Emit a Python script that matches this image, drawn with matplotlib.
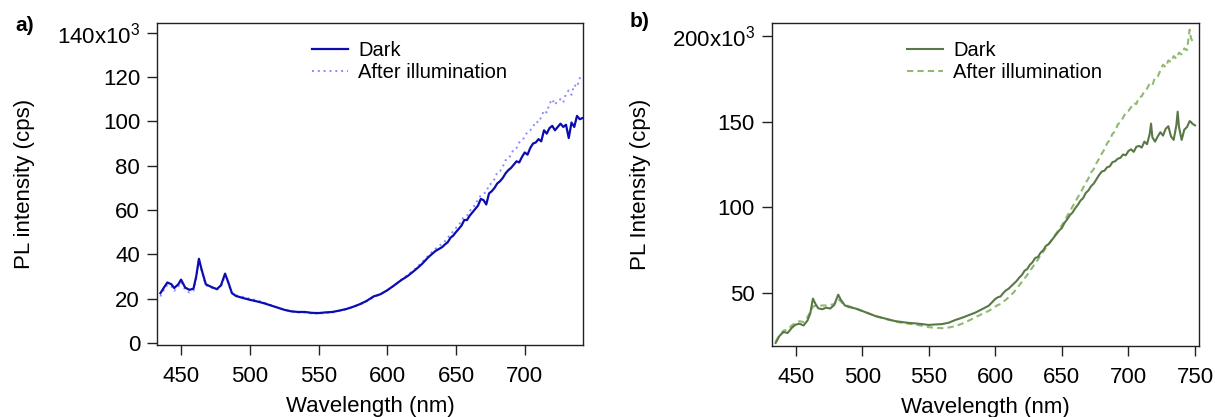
import matplotlib
matplotlib.use("Agg")
import matplotlib.pyplot as plt

plt.rcParams['font.family'] = ['Liberation Sans', 'DejaVu Sans']
plt.rcParams['mathtext.fontset'] = 'custom'
plt.rcParams['mathtext.rm'] = 'Liberation Sans'

# ---- panel a: PL spectra, wavelength in nm, intensity in 10^3 cps ----
wl_a = [435, 437, 440, 443, 445, 448, 450, 453, 456, 459,
        461, 463, 465, 468, 472, 476, 479, 482, 484, 487,
        490, 495, 500, 505, 510, 515, 520, 525, 530, 535,
        540, 545, 550, 555, 560, 565, 570, 575, 580, 585,
        590, 595, 600, 605, 610, 615, 620, 625, 630, 635,
        640, 642, 644, 646, 648, 650, 652, 654, 656, 658,
        660, 662, 664, 666, 668, 670, 672, 674, 676, 678,
        680, 682, 684, 686, 688, 690, 692, 694, 696, 698,
        700, 702, 704, 706, 708, 710, 712, 714, 716, 718,
        720, 722, 724, 726, 728, 730, 732, 734, 736, 738,
        740, 742]
dark_a = [22.5, 24.5, 27.3, 26.5, 24.8, 26.5, 28.6, 25.0, 24.0, 24.5,
          30.0, 38.0, 33.0, 26.5, 25.3, 24.3, 26.0, 31.3, 28.0, 22.5,
          21.2, 20.3, 19.5, 18.8, 18.0, 17.0, 16.0, 15.0, 14.3, 14.0,
          14.0, 13.6, 13.5, 13.8, 14.0, 14.6, 15.3, 16.3, 17.5, 19.0,
          21.0, 22.0, 23.8, 26.0, 28.3, 30.3, 32.8, 35.5, 38.8, 41.5,
          43.3, 44.5, 45.5, 47.5, 48.5, 50.1, 51.5, 53.0, 55.5, 55.5,
          57.5, 59.0, 60.5, 62.0, 65.0, 64.5, 62.5, 67.5, 68.5, 70.0,
          72.0, 73.0, 74.5, 76.5, 78.0, 79.0, 80.5, 82.0, 81.5, 84.0,
          86.0, 85.0, 88.0, 90.0, 90.5, 92.0, 91.0, 96.0, 94.5, 97.0,
          98.0, 96.0, 97.5, 99.0, 97.5, 98.5, 92.5, 99.5, 97.5, 102.5,
          101.0, 101.5]
illum_a = [21.0, 23.5, 26.3, 25.5, 23.5, 25.5, 27.5, 24.0, 22.8, 23.5,
           29.0, 37.5, 32.5, 26.0, 25.0, 24.0, 25.5, 30.5, 27.5, 22.5,
           21.5, 20.8, 20.0, 19.3, 18.3, 17.2, 16.0, 15.0, 14.3, 13.8,
           13.8, 13.3, 13.3, 13.5, 13.8, 14.5, 15.2, 16.2, 17.3, 18.8,
           20.6, 22.0, 23.8, 26.0, 28.5, 30.8, 33.3, 36.3, 39.5, 42.5,
           44.8, 46.0, 47.5, 49.0, 50.5, 52.0, 53.0, 55.5, 57.0, 57.5,
           59.5, 61.5, 62.0, 65.0, 66.5, 67.5, 68.0, 71.5, 72.0, 74.0,
           77.0, 77.5, 79.5, 82.5, 83.0, 85.0, 87.5, 88.0, 90.5, 91.5,
           93.0, 95.5, 96.0, 97.5, 100.0, 99.5, 102.0, 105.0, 104.0, 108.0,
           110.0, 107.5, 109.5, 110.0, 108.5, 112.5, 114.0, 112.0, 116.5, 115.5,
           119.5, 121.0]

# ---- panel b ----
wl_b = [435, 438, 441, 444, 447, 450, 453, 456, 459, 461,
        463, 465, 467, 470, 473, 476, 479, 482, 484, 487,
        490, 495, 500, 505, 510, 515, 520, 525, 530, 535,
        540, 545, 550, 555, 560, 565, 570, 575, 580, 585,
        590, 595,
        600, 602, 604, 606, 608, 610, 612, 614, 616, 618,
        620, 622, 624, 626, 628, 630, 632, 634, 636, 638,
        640, 642, 644, 646, 648, 650, 652, 654, 656, 658,
        660, 662, 664, 666, 668, 670, 672, 674, 676, 678,
        680, 682, 684, 686, 688, 690, 692, 694, 696, 698,
        700, 702, 704, 706, 708, 710, 712, 714, 716, 717,
        718, 720, 722, 724, 726, 728, 730, 732, 734, 736,
        737, 738, 740, 742, 744, 746, 747, 748, 750]
dark_b = [20.8, 25.0, 27.2, 26.6, 29.5, 31.5, 32.0, 31.0, 34.0, 38.0,
          46.7, 43.5, 41.0, 40.5, 41.4, 40.9, 43.0, 49.0, 46.0, 42.7,
          41.8, 40.9, 39.5, 38.0, 36.5, 35.5, 34.5, 33.5, 33.0, 32.5,
          32.2, 31.8, 31.3, 31.6, 31.8, 32.6, 34.2, 35.5, 37.0, 38.5,
          40.5, 42.5,
          46.5, 47.5, 48.0, 50.0, 51.5, 52.5, 54.0, 55.5, 57.0, 59.0,
          60.5, 63.0, 64.0, 66.5, 68.0, 70.5, 71.0, 73.5, 75.0, 77.5,
          78.5, 80.5, 82.5, 84.5, 86.5, 88.0, 91.0, 93.0, 95.5, 97.0,
          99.5, 101.5, 104.0, 105.5, 108.5, 110.0, 112.5, 114.0, 116.5, 119.0,
          121.0, 121.5, 123.5, 124.0, 126.5, 127.0, 128.5, 129.0, 131.0, 130.5,
          133.0, 134.0, 132.5, 135.5, 136.0, 135.0, 138.5, 137.0, 143.0, 149.0,
          141.0, 138.5, 141.5, 144.0, 142.0, 146.0, 147.5, 141.5, 139.5, 148.0,
          156.0, 147.0, 139.5, 145.5, 147.0, 150.5, 150.0, 149.0, 148.0]
illum_b = [21.5, 25.5, 28.0, 28.5, 31.0, 32.5, 33.5, 33.0, 36.0, 39.0,
           42.0, 42.5, 42.5, 42.7, 42.7, 43.0, 43.5, 46.5, 45.0, 43.0,
           42.3, 41.0, 39.5, 38.0, 36.5, 35.3, 34.3, 33.3, 32.5, 32.0,
           31.5, 30.8, 30.0, 29.6, 29.4, 29.8, 30.6, 32.0, 33.8, 35.8,
           37.7, 39.5,
           42.0, 43.0, 43.5, 45.0, 46.0, 47.5, 49.0, 50.5, 52.5, 54.5,
           56.5, 58.5, 60.5, 63.0, 65.0, 67.5, 69.5, 72.0, 74.0, 76.5,
           78.5, 80.5, 83.0, 85.0, 87.5, 89.5, 92.0, 95.0, 97.5, 100.5,
           103.0, 106.0, 108.5, 111.5, 114.5, 117.0, 120.5, 122.5, 126.0, 128.5,
           131.5, 134.0, 137.5, 139.5, 143.0, 144.5, 148.5, 150.0, 152.5, 155.5,
           156.5, 158.5, 161.0, 160.5, 164.5, 165.0, 168.0, 169.5, 172.5, 172.0,
           171.5, 176.0, 176.5, 180.0, 183.5, 182.0, 186.0, 185.0, 188.5, 187.0,
           188.5, 190.5, 189.5, 193.0, 192.0, 204.0, 199.0, 197.5, 195.5]

ticks_a = [0, 20, 40, 60, 80, 100, 120, 140]
ticks_b = [50, 100, 150, 200]

fig = plt.figure(figsize=(12.15, 4.17), dpi=100)
ax1 = fig.add_axes([0.129, 0.1727, 0.3511, 0.7715])
ax2 = fig.add_axes([0.6351, 0.1703, 0.3517, 0.7739])

ax1.plot(wl_a, dark_a, color='#0c0cb0', lw=1.6, label='Dark', zorder=3)
ax1.plot(wl_a, illum_a, color='#8a8aff', lw=1.4, ls=(0, (1, 2)),
         label='After illumination', zorder=2)
ax2.plot(wl_b, dark_b, color='#5a7846', lw=1.5, label='Dark', zorder=3)
ax2.plot(wl_b, illum_b, color='#92b872', lw=1.5, ls=(0, (3, 2)),
         label='After illumination', zorder=2)

ax1.set_xlim(432.3, 742.6)
ax1.set_ylim(-0.9, 144.3)
ax2.set_xlim(432, 753)
ax2.set_ylim(19.0, 207.7)

ax1.set_xticks([450, 500, 550, 600, 650, 700])
ax2.set_xticks([450, 500, 550, 600, 650, 700, 750])


def ylabels(vals):
    out = [str(v) for v in vals]
    out[-1] = out[-1] + r'x10$^{\mathregular{3}}$'
    return out


ax1.set_yticks(ticks_a)
ax1.set_yticklabels(ylabels(ticks_a))
ax2.set_yticks(ticks_b)
ax2.set_yticklabels(ylabels(ticks_b))

for ax in (ax1, ax2):
    for sp in ax.spines.values():
        sp.set_linewidth(1.0)
        sp.set_color('#222222')
    ax.tick_params(direction='out', length=7, width=1.0, color='#222222',
                   labelsize=16)
    ax.tick_params(axis='x', pad=8)
    ax.tick_params(axis='y', pad=5)
    ax.set_xlabel('Wavelength (nm)', fontsize=16)
    ax.xaxis.set_label_coords(0.5, -0.158)

ax1.set_ylabel('PL intensity (cps)', fontsize=16)
ax1.yaxis.set_label_coords(-0.285, 0.5)
ax2.set_ylabel('PL Intensity (cps)', fontsize=16)
ax2.yaxis.set_label_coords(-0.282, 0.5)

ax1.legend(loc='upper left', bbox_to_anchor=(0.363, 0.945), frameon=False,
           fontsize=14.5, handlelength=1.8, handletextpad=0.5,
           labelspacing=0.15, borderpad=0, borderaxespad=0)
ax2.legend(loc='upper left', bbox_to_anchor=(0.317, 0.945), frameon=False,
           fontsize=14.5, handlelength=1.8, handletextpad=0.5,
           labelspacing=0.15, borderpad=0, borderaxespad=0)

fig.text(0.0123, 0.94, 'a)', fontsize=15, fontweight='bold', va='center')
fig.text(0.518, 0.948, 'b)', fontsize=15, fontweight='bold', va='center')

fig.savefig('out.png', dpi=100)
